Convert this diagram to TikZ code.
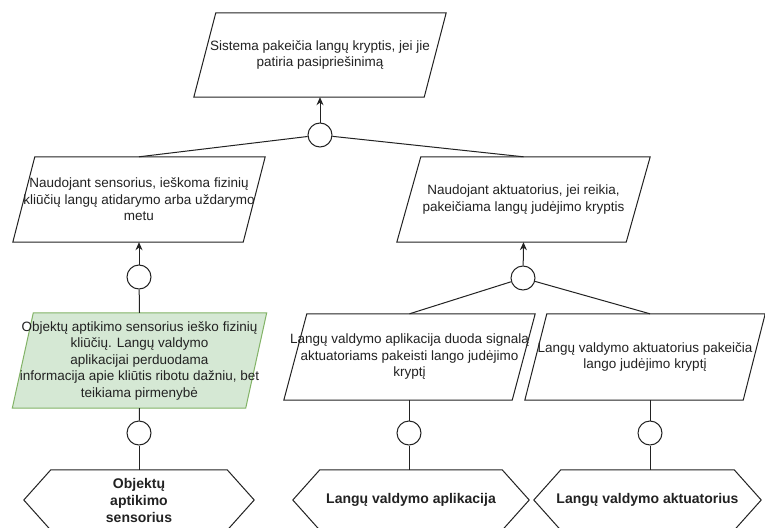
\documentclass[tikz,border=0pt]{standalone}
\usepackage{fontspec}
\setmainfont{Liberation Sans}
\usetikzlibrary{calc,arrows.meta}
\pgfdeclarelayer{bg}
\pgfdeclarelayer{paper}
\pgfsetlayers{paper,bg,main}
\definecolor{greenfill}{HTML}{D5E8D4}
\definecolor{greenline}{HTML}{82B366}
\definecolor{ink}{HTML}{222222}
\tikzset{
  lbl/.style={inner sep=0pt, align=center, font=\fontsize{13.5}{16.5}\selectfont, text=ink},
  hexlbl/.style={lbl, font=\bfseries\fontsize{14}{17}\selectfont},
  conn/.style={draw=ink, line width=1pt},
  junction/.style={circle, draw=ink, line width=1pt, minimum size=24pt, inner sep=0pt, fill=white},
  arr/.style={conn, -{Stealth[length=8pt,width=7pt]}},
  plainbox/.style={fill=white, draw=ink, line width=1pt},
  greenbox/.style={fill=greenfill, draw=greenline, line width=1pt},
}
\newcommand\parashape[3]{%
  \begin{pgfonlayer}{bg}
  \path[#1] ($(#2.north west)+(#3,0)$) -- (#2.north east) -- ($(#2.south east)-(#3,0)$) -- (#2.south west) -- cycle;
  \end{pgfonlayer}}
\newcommand\hexshape[2]{%
  \begin{pgfonlayer}{bg}
  \path[plainbox] (#1.west) -- ($(#1.north west)+(#2,0)$) -- ($(#1.north east)-(#2,0)$) -- (#1.east) -- ($(#1.south east)-(#2,0)$) -- ($(#1.south west)+(#2,0)$) -- cycle;
  \end{pgfonlayer}}
\begin{document}
\begin{tikzpicture}[x=1pt,y=-1pt]
\useasboundingbox (0,0) rectangle (765,527);
\clip (0,0) rectangle (765,527);
\begin{pgfonlayer}{paper}
\fill[white] (0,0) rectangle (765,527);
\end{pgfonlayer}

% parallelogram boxes
\node[lbl, minimum width=252pt, minimum height=84pt] (top) at (320,55)
  {Sistema pakeičia langų kryptis, jei jie\\patiria pasipriešinimą};
\parashape{plainbox}{top}{22}

\node[lbl, minimum width=252pt, minimum height=85pt] (left) at (139,199.5)
  {Naudojant sensorius, ieškoma fizinių\\kliūčių langų atidarymo arba uždarymo\\metu};
\parashape{plainbox}{left}{22}

\node[lbl, minimum width=253pt, minimum height=85pt] (right) at (523.5,199.5)
  {Naudojant aktuatorius, jei reikia,\\pakeičiama langų judėjimo kryptis};
\parashape{plainbox}{right}{24}

\node[lbl, minimum width=254pt, minimum height=95pt] (green) at (139.5,360.5)
  {Objektų aptikimo sensorius ieško fizinių\\kliūčių. Langų valdymo\\aplikacijai perduodama\\informacija apie kliūtis ribotu dažniu, bet\\teikiama pirmenybė};
\parashape{greenbox}{green}{21}

\node[lbl, minimum width=251pt, minimum height=86pt] (bl) at (409.5,357)
  {Langų valdymo aplikacija duoda signalą\\aktuatoriams pakeisti lango judėjimo\\kryptį};
\parashape{plainbox}{bl}{23}

\node[lbl, minimum width=240pt, minimum height=86pt] (br) at (645,357)
  {Langų valdymo aktuatorius pakeičia\\lango judėjimo kryptį};
\parashape{plainbox}{br}{22}

% hexagons
\node[hexlbl, minimum width=230pt, minimum height=60pt] (hex1) at (139,500)
  {Objektų\\aptikimo\\sensorius};
\hexshape{hex1}{27}
\node[hexlbl, minimum width=236pt, minimum height=60pt] (hex2) at (411,500)
  {Langų valdymo aplikacija};
\hexshape{hex2}{27}
\node[hexlbl, minimum width=227pt, minimum height=60pt] (hex3) at (647.5,500)
  {Langų valdymo aktuatorius};
\hexshape{hex3}{27}

% junctions
\node[junction] (c1) at (320,135) {};
\node[junction] (c2) at (139,277) {};
\node[junction] (c3) at (523,278) {};
\node[junction] (c4) at (139,433) {};
\node[junction] (c5) at (409,433) {};
\node[junction] (c6) at (650,433) {};

\coordinate (brT) at (c6 |- br.north);
\coordinate (brB) at (c6 |- br.south);
\coordinate (blB) at (c5 |- bl.south);
\coordinate (h2T) at (c5 |- hex2.north);
\coordinate (h3T) at (c6 |- hex3.north);

% connectors
\draw[arr] (c1) -- (top.south);
\draw[conn] (c1) -- (left.north);
\draw[conn] (c1) -- (right.north);

\draw[arr] (c2) -- (left.south);
\draw[conn] (green.north) -- (c2);

\draw[arr] (c3) -- (right.south);
\draw[conn] (c3) -- (bl.north);
\draw[conn] (c3) -- (brT);

\draw[conn] (green.south) -- (c4);
\draw[conn] (c4) -- (hex1.north);
\draw[conn] (blB) -- (c5);
\draw[conn] (c5) -- (h2T);
\draw[conn] (brB) -- (c6);
\draw[conn] (c6) -- (h3T);
\end{tikzpicture}
\end{document}
